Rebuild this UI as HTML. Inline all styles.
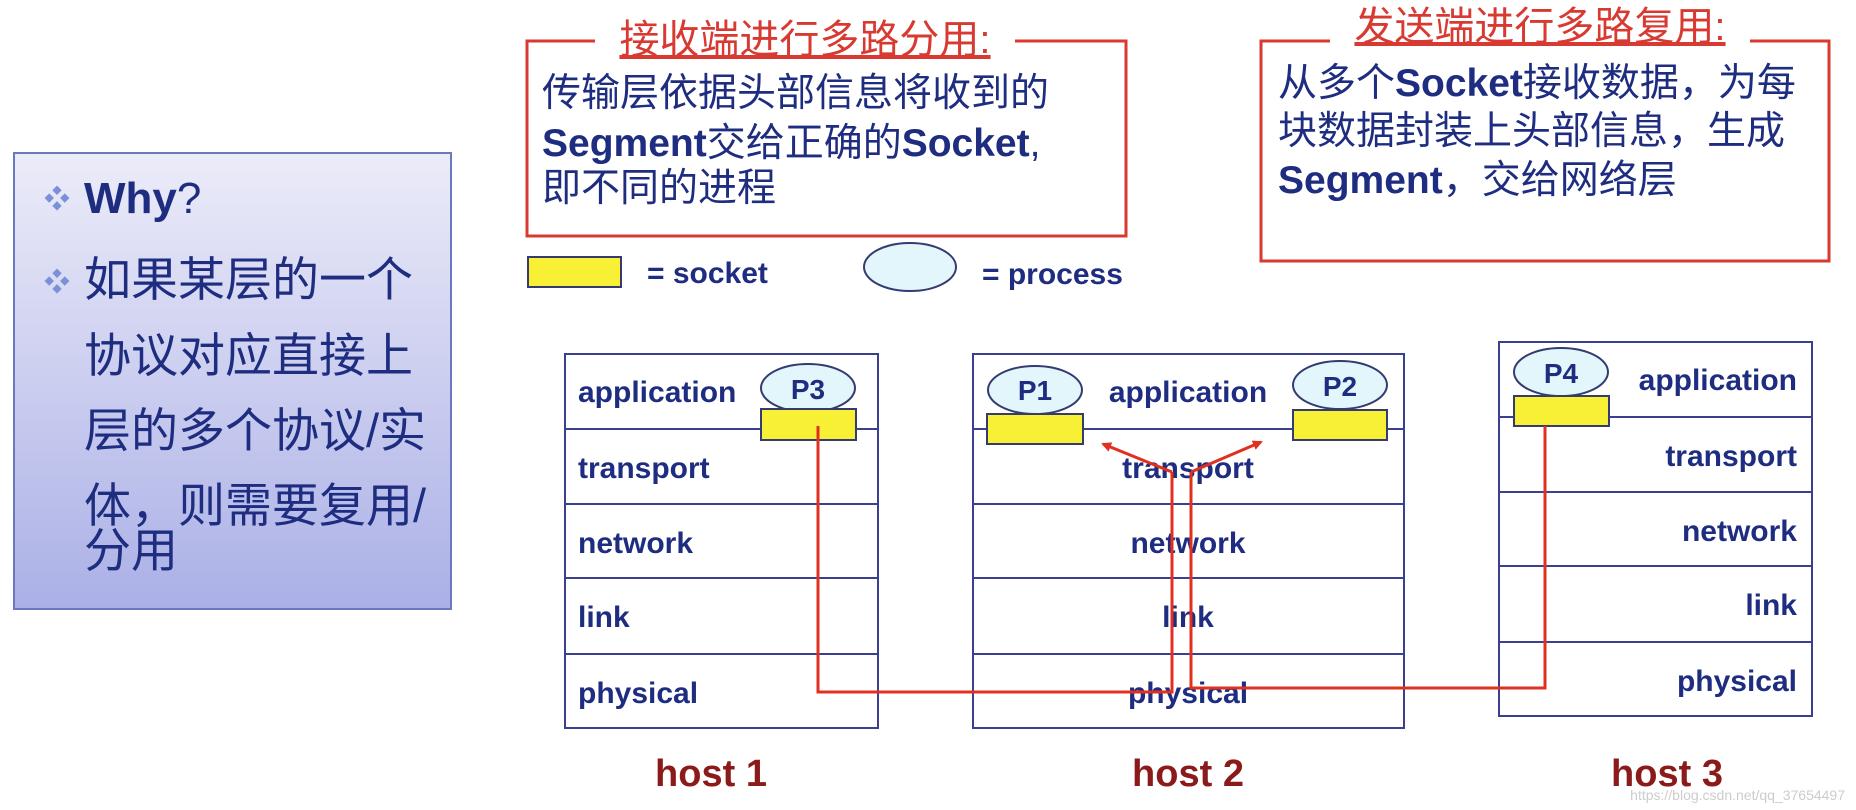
<!DOCTYPE html>
<html><head><meta charset="utf-8"><style>
body{margin:0;background:#fff;}
svg{display:block;}
text{font-family:"Liberation Sans","Noto Sans CJK SC",sans-serif;}
</style></head><body>
<svg width="1856" height="810" viewBox="0 0 1856 810" xmlns="http://www.w3.org/2000/svg">
<defs>
<linearGradient id="g" x1="0" y1="0" x2="0" y2="1">
<stop offset="0" stop-color="#ececf9"/><stop offset="1" stop-color="#aab0e6"/>
</linearGradient>
<marker id="ar" markerWidth="10" markerHeight="10" refX="8" refY="5" orient="auto" markerUnits="userSpaceOnUse">
<path d="M0,0 L10,5 L0,10 Z" fill="#e03020"/></marker>
</defs>
<rect x="14" y="153" width="437" height="456" fill="url(#g)" stroke="#6a78bf" stroke-width="2"/>
<g fill="#1e2d80" font-size="47">
<text x="44" y="208" font-size="26" fill="#7a90d8">❖</text>
<text x="84" y="213" font-weight="bold" font-size="44">Why<tspan font-weight="normal">?</tspan></text>
<text x="44" y="291" font-size="26" fill="#7a90d8">❖</text>
<text x="84" y="296">如果某层的一个</text>
<text x="84" y="372">协议对应直接上</text>
<text x="84" y="447">层的多个协议/实</text>
<text x="84" y="522">体，则需要复用/</text>
<text x="84" y="567">分用</text>
</g>
<rect x="527" y="41" width="599" height="195" fill="#fff" stroke="#d83a32" stroke-width="3"/>
<rect x="595" y="18" width="420" height="44" fill="#fff"/>
<text x="805" y="53" font-size="40" fill="#d83a32" text-anchor="middle" text-decoration="underline">接收端进行多路分用:</text>
<g fill="#1e2d80" font-size="39">
<text x="542" y="106">传输层依据头部信息将收到的</text>
<text x="542" y="156"><tspan font-weight="bold">Segment</tspan>交给正确的<tspan font-weight="bold">Socket</tspan>,</text>
<text x="542" y="201">即不同的进程</text>
</g>
<rect x="1261" y="41" width="568" height="220" fill="#fff" stroke="#d83a32" stroke-width="3"/>
<rect x="1330" y="3" width="420" height="44" fill="#fff"/>
<text x="1540" y="40" font-size="40" fill="#d83a32" text-anchor="middle" text-decoration="underline">发送端进行多路复用:</text>
<g fill="#1e2d80" font-size="39">
<text x="1278" y="96">从多个<tspan font-weight="bold">Socket</tspan>接收数据，为每</text>
<text x="1278" y="144">块数据封装上头部信息，生成</text>
<text x="1278" y="193"><tspan font-weight="bold">Segment</tspan>，交给网络层</text>
</g>
<rect x="528" y="257" width="93" height="30" fill="#f7f034" stroke="#333b70" stroke-width="2"/>
<text x="647" y="283" font-size="30" font-weight="bold" fill="#1e2d80">= socket</text>
<ellipse cx="910" cy="267" rx="46" ry="24" fill="#e3f6fc" stroke="#333b70" stroke-width="2"/>
<text x="982" y="284" font-size="30" font-weight="bold" fill="#1e2d80">= process</text>
<g stroke="#3a3f8f" stroke-width="2" fill="none">
<rect x="565" y="354" width="313" height="374"/>
<line x1="565" y1="429" x2="878" y2="429"/><line x1="565" y1="504" x2="878" y2="504"/><line x1="565" y1="578" x2="878" y2="578"/><line x1="565" y1="654" x2="878" y2="654"/>
<rect x="973" y="354" width="431" height="374"/>
<line x1="973" y1="429" x2="1404" y2="429"/><line x1="973" y1="504" x2="1404" y2="504"/><line x1="973" y1="578" x2="1404" y2="578"/><line x1="973" y1="654" x2="1404" y2="654"/>
<rect x="1499" y="342" width="313" height="374"/>
<line x1="1499" y1="417" x2="1812" y2="417"/><line x1="1499" y1="492" x2="1812" y2="492"/><line x1="1499" y1="566" x2="1812" y2="566"/><line x1="1499" y1="642" x2="1812" y2="642"/>
</g>
<g font-size="30" font-weight="bold" fill="#1e2d80">
<text x="578" y="402">application</text><text x="578" y="478">transport</text><text x="578" y="553">network</text><text x="578" y="627">link</text><text x="578" y="703">physical</text>
<g text-anchor="middle"><text x="1188" y="402">application</text><text x="1188" y="478">transport</text><text x="1188" y="553">network</text><text x="1188" y="627">link</text><text x="1188" y="703">physical</text></g>
<g text-anchor="end"><text x="1797" y="390">application</text><text x="1797" y="466">transport</text><text x="1797" y="541">network</text><text x="1797" y="615">link</text><text x="1797" y="691">physical</text></g>
</g>
<g stroke="#333b70" stroke-width="2">
<ellipse cx="808" cy="388" rx="47" ry="24" fill="#e3f6fc"/><rect x="761" y="409" width="95" height="31" fill="#f7f034"/>
<ellipse cx="1035" cy="390" rx="47" ry="24" fill="#e3f6fc"/><rect x="987" y="414" width="96" height="30" fill="#f7f034"/>
<ellipse cx="1340" cy="385" rx="47" ry="24" fill="#e3f6fc"/><rect x="1293" y="410" width="94" height="30" fill="#f7f034"/>
<ellipse cx="1561" cy="372" rx="47" ry="24" fill="#e3f6fc"/><rect x="1514" y="396" width="95" height="30" fill="#f7f034"/>
</g>
<g font-size="28" font-weight="bold" fill="#1e2d80" text-anchor="middle">
<text x="808" y="399">P3</text><text x="1035" y="400">P1</text><text x="1340" y="396">P2</text><text x="1561" y="383">P4</text>
</g>
<g stroke="#e03020" stroke-width="3" fill="none">
<polyline points="818,426 818,692 1172,692 1172,472"/>
<polyline points="1545,426 1545,688 1191,688 1191,472"/>
<line x1="1172" y1="472" x2="1103" y2="444" marker-end="url(#ar)"/>
<line x1="1191" y1="472" x2="1261" y2="442" marker-end="url(#ar)"/>
</g>
<g font-size="38" font-weight="bold" fill="#8b1a1a" text-anchor="middle">
<text x="711" y="786">host 1</text><text x="1188" y="786">host 2</text><text x="1667" y="786">host 3</text>
</g>
<text x="1845" y="800" font-size="14" fill="#ccc" text-anchor="end">https://blog.csdn.net/qq_37654497</text>
</svg>
</body></html>
